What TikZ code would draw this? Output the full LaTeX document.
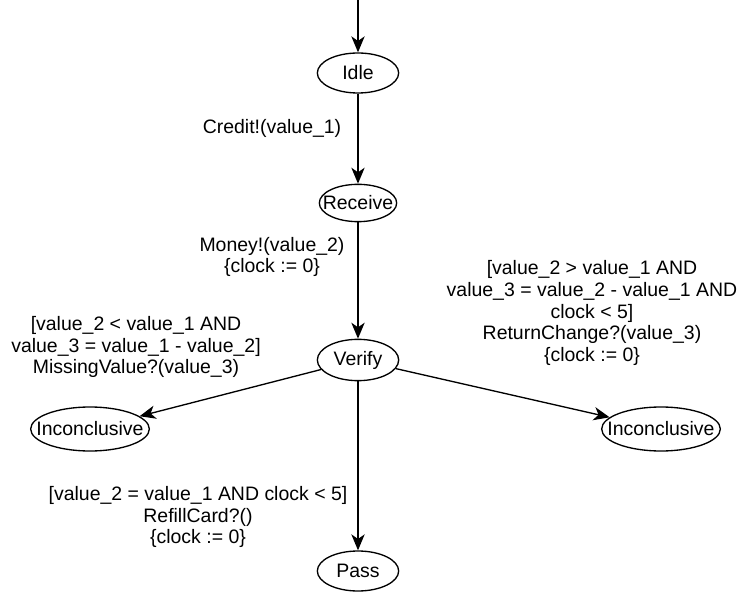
\documentclass[tikz,border=0pt]{standalone}
\usepackage{fontspec}
\setmainfont{Liberation Sans}
\usetikzlibrary{shapes.geometric,arrows.meta}

\tikzset{
    state/.style={ellipse, draw, line width=1pt, inner sep=0pt},
    trans/.style={line width=1pt, -{Stealth[length=12pt,width=10pt,inset=3.5pt]}},
    guard/.style={align=center, inner sep=0pt}
}

\begin{document}
\begin{tikzpicture}[x=0.75pt, y=-0.75pt, font=\fontsize{14.6}{16.3}\selectfont]
    \useasboundingbox (0,0) rectangle (739,595);

    % states
    \coordinate (init) at (358,0);
    \node[state, minimum width=61pt, minimum height=30pt] (idle) at (358,73) {\makebox[0pt]{Idle}};
    \node[state, minimum width=58pt, minimum height=28pt] (receive) at (358,203) {\makebox[0pt]{Receive}};
    \node[state, minimum width=61pt, minimum height=31pt] (verify) at (358,360) {\makebox[0pt]{Verify}};
    \node[state, minimum width=89pt, minimum height=33pt] (inconcL) at (90,429) {\makebox[0pt]{Inconclusive}};
    \node[state, minimum width=89pt, minimum height=33pt] (inconcR) at (661,429) {\makebox[0pt]{Inconclusive}};
    \node[state, minimum width=61pt, minimum height=30pt] (pass) at (358,571) {\makebox[0pt]{Pass}};

    % transitions
    \draw[trans] (init) -- (idle);
    \draw[trans] (idle) -- (receive);
    \draw[trans] (receive) -- (verify);
    \draw[trans] (verify) -- (inconcL);
    \draw[trans] (verify) -- (inconcR);
    \draw[trans] (verify) -- (pass);

    % guards and actions
    \node[guard] (lblCredit) at (272,128) {Credit!(value\_1)};
    \node[guard] (lblMoney) at (272,257) {Money!(value\_2)\\\{clock := 0\}};
    \node[guard] (lblMissing) at (136,347) {[value\_2 < value\_1 AND\\value\_3 = value\_1 - value\_2]\\MissingValue?(value\_3)};
    \node[guard] (lblChange) at (592,313) {[value\_2 > value\_1 AND\\value\_3 = value\_2 - value\_1 AND\\clock < 5]\\ReturnChange?(value\_3)\\\{clock := 0\}};
    \node[guard] (lblRefill) at (198,517) {[value\_2 = value\_1 AND clock < 5]\\RefillCard?()\\\{clock := 0\}};
\end{tikzpicture}
\end{document}
